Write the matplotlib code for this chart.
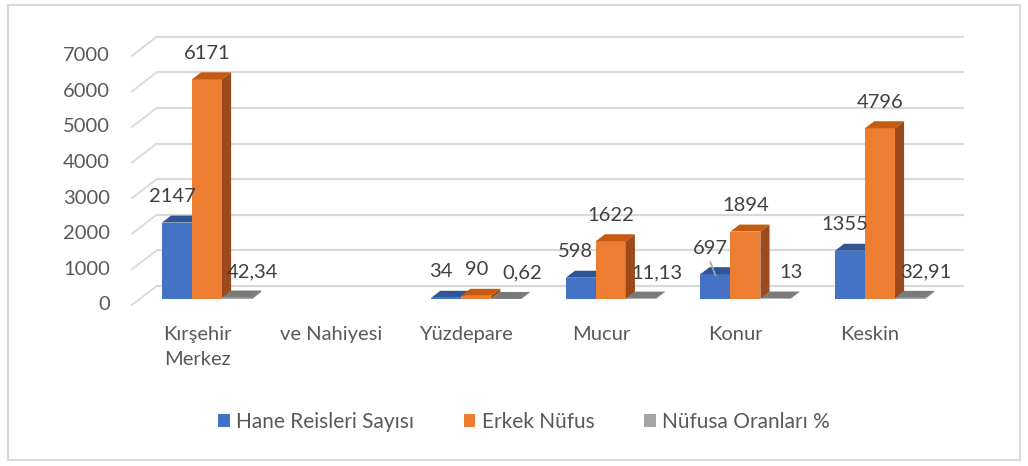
import matplotlib
matplotlib.use("Agg")
import matplotlib.pyplot as plt
from matplotlib.patches import Polygon, Rectangle, Patch
import numpy as np

plt.rcParams['font.family'] = ['Lato', 'DejaVu Sans']

#-----------Data------------
categories = ["Kırşehir\nMerkez", "ve Nahiyesi", "Yüzdepare", "Mucur", "Konur", "Keskin"]
hane = [2147, np.nan, 34, 598, 697, 1355]
erkek = [6171, np.nan, 90, 1622, 1894, 4796]
oran = [42.34, np.nan, 0.62, 11.13, 13, 32.91]
oran_text = ["42,34", "", "0,62", "11,13", "13", "32,91"]
series_names = ["Hane Reisleri Sayısı", "Erkek Nüfus", "Nüfusa Oranları %"]
yticks = [0, 1000, 2000, 3000, 4000, 5000, 6000, 7000]

#-----------Layout (pixels)------------
W, H = 1028, 466
X0, Y0 = 207, 299      # pixel of category 0 centre / value 0 on the bar plane
SX = 134.6             # px per category
SY = 0.0356            # px per unit value

def off(dx, dy):
    # pixel offset -> data offset (dy positive = up)
    return dx / SX, dy / SY

fig = plt.figure(figsize=(W / 100, H / 100), dpi=100)
ax = fig.add_axes([0, 0, 1, 1])
ax.set_xlim(-X0 / SX, (W - X0) / SX)
ax.set_ylim(-(H - Y0) / SY, Y0 / SY)
ax.axis('off')

# outer frame
fig.patches.append(Rectangle((8 / W, 6 / H), 1012 / W, 455 / H, transform=fig.transFigure,
                             fill=False, edgecolor="#D9D9D9", lw=1.5))

#-----------Walls & grid------------
grid_c = "#D9D9D9"
bx, by = off(16.9, 13)      # back wall
fx, fy = off(-7.8, -6)      # front edge of side wall
xl, xr = -0.5, 5.5
for v in yticks:
    ax.plot([xl + bx, xr + bx], [v + by, v + by], color=grid_c, lw=1.6, zorder=1, solid_capstyle='butt')
    ax.plot([xl + fx, xl + bx], [v + fy, v + by], color=grid_c, lw=1.3, zorder=1)
    tx, _ = off(-22, 0)
    ax.text(xl + fx + tx, v + fy, str(v), ha='right', va='center', fontsize=14.5, color="#595959")

#-----------3D bars------------
bw = 30 / SX
ddx, ddy = off(9.1, 7)
styles = [("#4472C4", "#2F5597", "#2A4A80"),
          ("#ED7D31", "#C55A11", "#9C4A1C"),
          ("#A5A5A5", "#7A7A7A", "#6E6E6E")]
shift = [-bw, 0, bw]
x = np.arange(len(categories))

for s, vals in enumerate([hane, erkek, oran]):
    front, top, side = styles[s]
    xs = x + shift[s]
    ax.bar(xs, vals, width=bw, color=front, zorder=3 + s, linewidth=0)
    for xi, v in zip(xs, vals):
        if np.isnan(v):
            continue
        l, r = xi - bw / 2, xi + bw / 2
        ax.add_patch(Polygon([(l, v), (r, v), (r + ddx, v + ddy), (l + ddx, v + ddy)],
                             closed=True, facecolor=top, edgecolor='none', zorder=3 + s))
        ax.add_patch(Polygon([(r, 0), (r + ddx, ddy), (r + ddx, v + ddy), (r, v)],
                             closed=True, facecolor=side, edgecolor='none', zorder=3 + s))

#-----------Data labels------------
lab_c = "#404040"
lab_dx = [-5, 0, 16]
lab_dy = 26
for s, vals in enumerate([hane, erkek, oran]):
    for i, v in enumerate(vals):
        if np.isnan(v):
            continue
        txt = oran_text[i] if s == 2 else str(int(v))
        dx, dy = off(lab_dx[s], lab_dy)
        ax.text(x[i] + shift[s] + dx, v + dy, txt, ha='center', va='center',
                fontsize=14.5, color=lab_c, zorder=10)

# leader line for Konur label
ax.plot([x[4] - bw + off(-5, 0)[0], x[4] - bw], [hane[4] + off(0, 12)[1], hane[4] + off(0, -1)[1]],
        color="#A6A6A6", lw=1.2, zorder=9)

#-----------Category labels------------
cx, cy = off(-10, -27)
for i, c in enumerate(categories):
    ax.text(x[i] + cx, cy, c, ha='center', va='top', fontsize=14.5, color="#595959",
            linespacing=1.55)

#-----------Legend------------
handles = [Patch(facecolor=st[0], edgecolor='none') for st in styles]
fig.legend(handles, series_names, loc='center', bbox_to_anchor=(524 / W, 1 - 422 / H),
           ncol=3, frameon=False, fontsize=15, handlelength=0.55, handleheight=0.55,
           handletextpad=0.3, columnspacing=2.4, labelcolor="#595959")

fig.savefig("out.png", dpi=100)
